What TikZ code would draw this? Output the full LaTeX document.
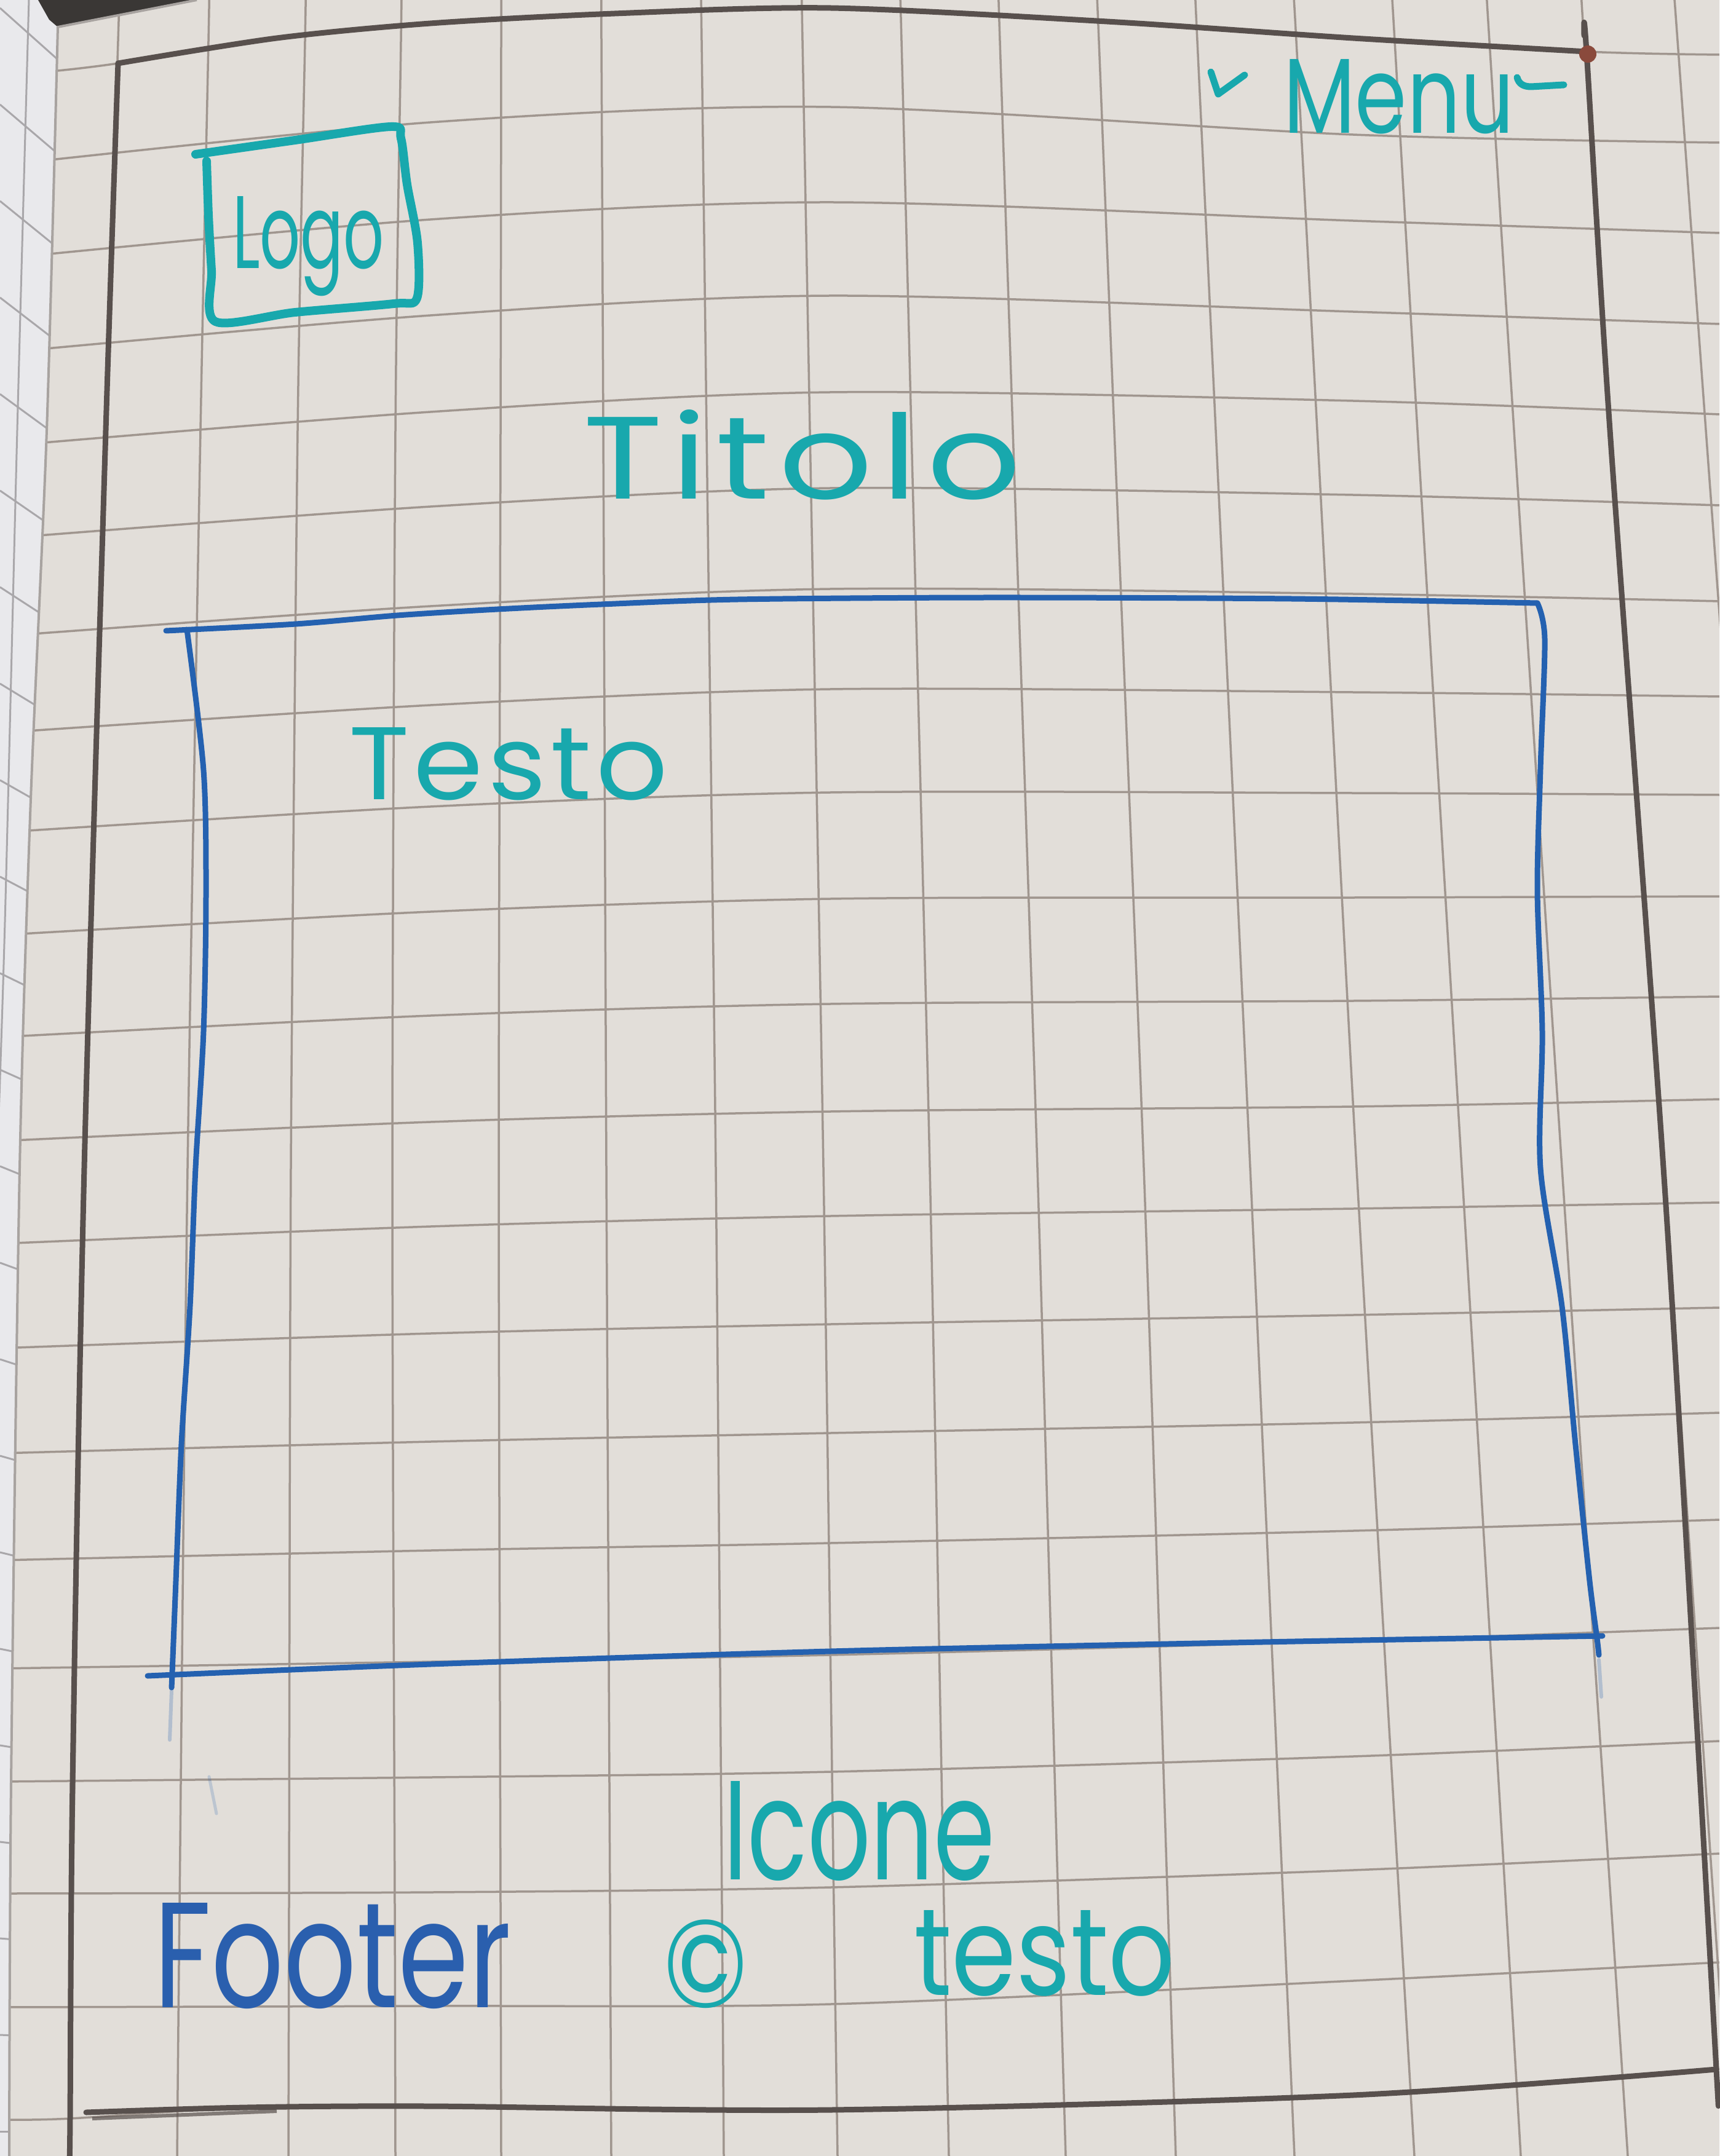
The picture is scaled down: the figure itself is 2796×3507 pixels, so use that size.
\documentclass[tikz,border=0pt]{standalone}
\usepackage{fontspec}
\setmainfont{Poppins}
\usepackage{graphicx}

\newlength\pxu
\setlength\pxu{0.01cm}
% a handwritten word squeezed into a given width and height
\newcommand\inkword[3]{\resizebox{#1\pxu}{#2\pxu}{#3}}
% the same, with wider letter spacing before the squeeze
\newcommand\inkwordsp[4]{\resizebox{#1\pxu}{#2\pxu}{\addfontfeatures{LetterSpace=#3}#4}}

\definecolor{paper}{HTML}{E2DED9}
\definecolor{strip}{HTML}{E9E9EC}
\definecolor{stripline}{HTML}{A9A7AA}
\definecolor{gridc}{HTML}{A0968F}
\definecolor{framec}{HTML}{58504D}
\definecolor{edgec}{HTML}{A8A3A0}
\definecolor{shadowc}{HTML}{3A3735}
\definecolor{inkteal}{HTML}{18A8AD}
\definecolor{inkblue}{HTML}{2461B0}
\definecolor{footblue}{HTML}{2A5FAE}
\definecolor{cornerdot}{HTML}{8A4A3C}

% outline of the sheet lying on top
\newcommand\sheetoutline{(320,0) -- (2796,0) -- (2796,3507) -- (15,3507) -- plot[smooth] coordinates {(15,3507) (18,2900) (32,1900) (50,1300) (76,700) (94,44)} -- cycle}

\begin{document}
\begin{tikzpicture}[x=0.01cm, y=-0.01cm,
  gridline/.style={draw=gridc, line width=3.5\pxu},
  framepen/.style={draw=framec, line width=9\pxu, line cap=round, line join=round},
  boxpen/.style={draw=inkblue, line width=9\pxu, line cap=round, line join=round},
  tealpen/.style={draw=inkteal, line width=14\pxu, line cap=round, line join=round},
  word/.style={inner sep=0pt, outer sep=0pt, anchor=base west, text=inkteal},
]
\useasboundingbox (0,0) rectangle (2796,3507);

% pages underneath, seen along the left edge
\fill[strip] (0,0) rectangle (2796,3507);
\foreach \k in {0,...,22}
  \draw[stripline, line width=3\pxu] (0,{13+157*\k}) -- (140,{13+157*\k+125*(1-\k/22)});
\draw[stripline, line width=3\pxu] plot[smooth] coordinates {(47,0) (28,700) (8,1500) (-5,1900)};

% the sheet itself
\fill[paper] \sheetoutline;
\fill[shadowc] (62,0) -- (320,0) -- (94,44) -- (80,32) -- cycle;

% squared ruling of the sheet
\begin{scope}
  \clip \sheetoutline;
  % rows
  \draw[gridline] plot[smooth] coordinates {(94,115) (192,103) (450,62) (700,38) (1000,22) (1350,13) (1800,35) (2200,62) (2580,84) (2796,89)};
  \foreach \Y/\a/\b/\c/\d in {
      174/95/25/45/58, 329/92/28/30/50, 481/93/32/26/46, 638/88/32/14/36,
      794/82/30/11/28, 958/77/28/8/20, 1121/71/26/5/12, 1289/65/23/1/4,
      1462/59/21/-2/-4, 1633/54/19/-5/-12, 1808/48/17/-8/-20, 1978/45/17/-12/-22,
      2154/39/15/-15/-27, 2331/33/14/-17/-33, 2510/28/12/-20/-38, 2692/22/11/-23/-44,
      2882/16/9/-25/-50, 3070/10/8/-28/-55, 3260/5/3/-38/-68}
    \draw[gridline] plot[smooth] coordinates {(0,{\Y+(\a)}) (700,{\Y+(\b)}) (1350,\Y) (2200,{\Y+(\c)}) (2796,{\Y+(\d)})};
  \draw[gridline] plot[smooth] coordinates {(15,3448) (114,3446) (400,3428) (700,3426) (1350,3432) (2200,3408) (2796,3365)};
  % columns
  \foreach \p/\q/\r/\s/\t/\u in {
      194/192/172/137/118/112, 340/339/326/305/292/288, 497/496/484/473/470/469,
      653/652/643/638/642/643, 815/815/814/811/814/815, 978/978/981/986/992/994,
      1140/1141/1149/1164/1174/1177, 1304/1305/1317/1339/1356/1362,
      1464/1466/1482/1512/1535/1543, 1624/1626/1647/1687/1721/1733,
      1784/1787/1812/1860/1899/1912, 1944/1947/1977/2033/2087/2105,
      2104/2108/2142/2206/2276/2300, 2264/2268/2305/2377/2449/2473,
      2418/2422/2462/2540/2620/2647, 2572/2576/2618/2705/2787/2815,
      2723/2728/2774/2862/2944/2972}
    \draw[gridline] plot[smooth] coordinates {(\p,0) (\q,67) (\r,700) (\s,1900) (\t,3100) (\u,3507)};
\end{scope}
\draw[edgec, line width=4\pxu] plot[smooth] coordinates {(15,3507) (18,2900) (32,1900) (50,1300) (76,700) (94,44)} -- (320,0);

% page frame drawn in pencil
\draw[framepen] plot[smooth] coordinates {(192,103) (450,62) (700,38) (1000,22) (1350,13) (1800,35) (2200,62) (2580,84)};
\draw[framepen] plot[smooth] coordinates {(2576,58) (2580,84) (2618,700) (2705,1900) (2759,2800) (2791,3366) (2794,3420)};
\draw[framepen] plot[smooth] coordinates {(2791,3366) (2200,3408) (1350,3432) (700,3426) (400,3428) (140,3436)};
\draw[framec, line width=6\pxu, opacity=0.7] (150,3446) -- (450,3434);
\draw[framepen] plot[smooth] coordinates {(192,103) (172,700) (137,1900) (118,2900) (114,3446) (113,3507)};
\fill[cornerdot] (2582,88) circle[radius=14\pxu];

% logo placeholder
\draw[tealpen] plot[smooth] coordinates {(318,251) (480,228) (636,206) (652,225) (662,300) (679,395) (678,485) (640,494) (480,508) (350,523) (344,440) (339,350) (336,262)};
\node[word] (logo) at (378,437) {\inkword{247}{117}{Logo}};

% menu entry with its two marks
\draw[tealpen, line width=11\pxu] (1969,117) -- (1981,153) -- (2024,122);
\node[word] (menu) at (2087,217) {\inkword{375}{120}{Menu}};
\draw[tealpen, line width=11\pxu] (2467,126) .. controls (2470,137) and (2478,141) .. (2490,141) -- (2543,138);

% page title
\node[word] (titolo) at (948,812) {\inkwordsp{712}{145}{6}{Titolo}};

% main content area
\draw[boxpen] plot[smooth] coordinates {(270,1026) (481,1015) (646,1001) (809,991) (978,983) (1200,975) (1600,972) (2100,974) (2500,981)};
\draw[boxpen] plot[smooth] coordinates {(2500,981) (2512,1040) (2505,1250) (2500,1450) (2508,1680) (2505,1900) (2540,2125) (2562,2350) (2585,2572) (2597,2665) (2600,2692)};
\draw[boxpen] plot[smooth] coordinates {(240,2726) (700,2707) (1350,2686) (2000,2672) (2606,2661)};
\draw[boxpen] plot[smooth] coordinates {(304,1024) (331,1253) (335,1454) (331,1678) (318,1900) (309,2125) (295,2349) (286,2572) (280,2722) (279,2745)};
\draw[inkblue, line width=6\pxu, opacity=0.25, line cap=round] (279,2750) -- (276,2830);
\draw[inkblue, line width=5\pxu, opacity=0.2, line cap=round] (340,2890) -- (352,2950);
\draw[inkblue, line width=6\pxu, opacity=0.25, line cap=round] (2600,2700) -- (2604,2760);
\node[word] (testo) at (567,1300) {\inkwordsp{519}{117}{4}{Testo}};

% footer
\node[word] (icone) at (1176,3057) {\inkword{442}{160}{Icone}};
\node[word, text=footblue] (footer) at (250,3265) {\inkword{581}{170}{Footer}};
\node[word, anchor=center] (copy) at (1147,3195) {\resizebox*{138\pxu}{144\pxu}{©}};
\node[word] (footnote) at (1486,3245) {\inkword{425}{138}{testo}};
\end{tikzpicture}
\end{document}
